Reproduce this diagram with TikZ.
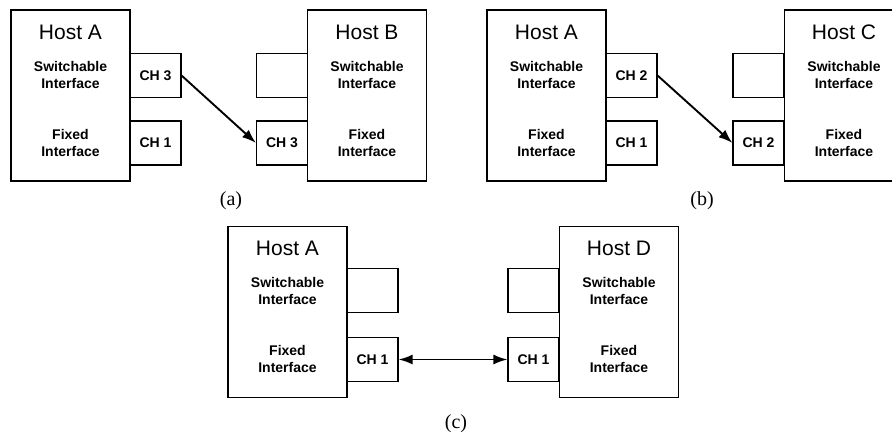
\documentclass[tikz,border=0pt]{standalone}
\usepackage{fontspec}
\setmainfont{Liberation Serif}
\setsansfont{Liberation Sans}
\usetikzlibrary{arrows.meta}

\begin{document}
\begin{tikzpicture}[x=1pt,y=-1pt,
    host/.style={draw,line width=1.1pt,minimum width=119pt,minimum height=171pt,inner sep=0pt},
    port/.style={draw,line width=1.1pt,minimum width=51pt,minimum height=44pt,inner sep=0pt,
      font=\sffamily\bfseries\fontsize{14}{16}\selectfont},
    hosttitle/.style={font=\sffamily\fontsize{21}{24}\selectfont},
    iface/.style={align=center,font=\sffamily\bfseries\fontsize{14}{17}\selectfont},
    caption/.style={font=\fontsize{20}{22}\selectfont},
    link/.style={line width=1.9pt,-{Latex[length=14pt,width=10pt]}},
    dlink/.style={line width=1.9pt,{Latex[length=14pt,width=10pt]}-{Latex[length=14pt,width=10pt]}}]
  \useasboundingbox (0,0) rectangle (892,434);

  % (a): host A sends on CH 3 to host B
  \node[host] (hostAa) at (70.5,95.5) {};
  \node[hosttitle] (hostAatitle) at (70.5,32) {Host A};
  \node[iface] (hostAasw) at (70.5,75) {Switchable\\Interface};
  \node[iface] (hostAafix) at (70.5,143) {Fixed\\Interface};
  \node[port] (chAasw) at (155.5,75.5) {CH 3};
  \node[port] (chAafix) at (155.5,143) {CH 1};

  \node[host] (hostB) at (367,95.5) {};
  \node[hosttitle] (hostBtitle) at (367,32) {Host B};
  \node[iface] (hostBsw) at (367,75) {Switchable\\Interface};
  \node[iface] (hostBfix) at (367,143) {Fixed\\Interface};
  \node[port] (chBsw) at (282,75.5) {};
  \node[port] (chBfix) at (282,143) {CH 3};

  \draw[link] (chAasw.east) -- (chBfix.west);
  \node[caption] (capa) at (231,201) {(a)};

  % (b): host A sends on CH 2 to host C
  \node[host] (hostAb) at (546.5,95.5) {};
  \node[hosttitle] (hostAbtitle) at (546.5,32) {Host A};
  \node[iface] (hostAbsw) at (546.5,75) {Switchable\\Interface};
  \node[iface] (hostAbfix) at (546.5,143) {Fixed\\Interface};
  \node[port] (chAbsw) at (631.5,75.5) {CH 2};
  \node[port] (chAbfix) at (631.5,143) {CH 1};

  \node[host] (hostC) at (844,95.5) {};
  \node[hosttitle] (hostCtitle) at (844,32) {Host C};
  \node[iface] (hostCsw) at (844,75) {Switchable\\Interface};
  \node[iface] (hostCfix) at (844,143) {Fixed\\Interface};
  \node[port] (chCsw) at (758.5,75.5) {};
  \node[port] (chCfix) at (758.5,143) {CH 2};

  \draw[link] (chAbsw.east) -- (chCfix.west);
  \node[caption] (capb) at (702,201) {(b)};

  % (c): host A and host D on the fixed CH 1
  \node[host] (hostAc) at (287.5,312) {};
  \node[hosttitle] (hostActitle) at (287.5,248) {Host A};
  \node[iface] (hostAcsw) at (287.5,291) {Switchable\\Interface};
  \node[iface] (hostAcfix) at (287.5,359) {Fixed\\Interface};
  \node[port] (chAcsw) at (372.5,290.5) {};
  \node[port] (chAcfix) at (372.5,359.5) {CH 1};

  \node[host] (hostD) at (619,312) {};
  \node[hosttitle] (hostDtitle) at (619,248) {Host D};
  \node[iface] (hostDsw) at (619,291) {Switchable\\Interface};
  \node[iface] (hostDfix) at (619,359) {Fixed\\Interface};
  \node[port] (chDsw) at (533.5,290.5) {};
  \node[port] (chDfix) at (533.5,359.5) {CH 1};

  \draw[dlink] (chAcfix.east) -- (chDfix.west);
  \node[caption] (capc) at (456,424) {(c)};
\end{tikzpicture}
\end{document}
